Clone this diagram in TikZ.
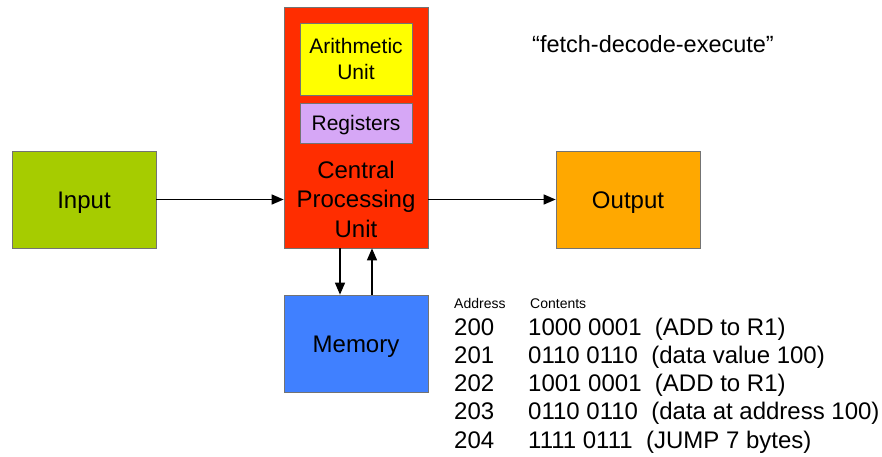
\documentclass[tikz,border=0pt]{standalone}
\usepackage{fontspec}
\setmainfont{Liberation Sans}
\usetikzlibrary{arrows.meta}
\definecolor{ingreen}{HTML}{A6CC00}
\definecolor{outorange}{HTML}{FFA800}
\definecolor{cpured}{HTML}{FF2D00}
\definecolor{memblue}{HTML}{4080FF}
\definecolor{auyellow}{HTML}{FFFF00}
\definecolor{reglilac}{HTML}{D6A7F6}
\tikzset{
  blk/.style={draw=black!55, line width=0.7pt, inner sep=0pt, minimum width=144pt, minimum height=97pt},
  bigtxt/.style={font=\fontsize{24}{29}\selectfont, text height=17.2pt, text depth=0pt},
  inner/.style={draw=black!55, line width=0.7pt, inner sep=0pt, minimum width=112pt, align=center, font=\fontsize{21}{26.5}\selectfont},
  conn/.style={line width=1.4pt, -{Triangle[length=12pt,width=10pt]}},
  rowtxt/.style={anchor=base west, inner sep=0pt, font=\fontsize{24}{28}\selectfont},
}
\begin{document}
\begin{tikzpicture}[x=1pt,y=-1pt]
\useasboundingbox (0,0) rectangle (882,456);
\node[blk, bigtxt, fill=ingreen] (in) at (84,199.5) {Input};
\node[blk, bigtxt, fill=outorange] (out) at (628,199.5) {Output};
\node[blk, bigtxt, fill=memblue] (mem) at (356,343.5) {Memory};
\node[blk, fill=cpured, minimum height=241pt] (cpu) at (356,127.5) {};
\node[inner, fill=auyellow, minimum height=72pt] (au) at (356,59) {Arithmetic\\Unit};
\node[inner, fill=reglilac, minimum height=40pt, text height=15.5pt, text depth=0pt] (reg) at (356,123) {Registers};
\node[anchor=base, inner sep=0pt, align=center, font=\fontsize{24}{29.5}\selectfont] (cputxt) at (356,237) {Central\\Processing\\Unit};
\draw[conn] (in.east) -- (in.east -| cpu.west);
\draw[conn] (out.west -| cpu.east) -- (out.west);
\draw[conn] ([xshift=-16pt]cpu.south) -- ([xshift=-16pt]mem.north);
\draw[conn] ([xshift=16pt]mem.north) -- ([xshift=16pt]cpu.south);
\node[anchor=base, inner sep=0pt, font=\fontsize{23.5}{28}\selectfont] (fde) at (653,52) {“fetch-decode-execute”};
\node[anchor=base west, inner sep=0pt, font=\fontsize{14}{17}\selectfont] (hadr) at (454,308) {Address};
\node[anchor=base west, inner sep=0pt, font=\fontsize{14}{17}\selectfont] (hcon) at (530,308) {Contents};
\node[rowtxt] (r0) at (454,335) {\makebox[74pt][l]{200}1000 0001\hspace{0.556em}(ADD to R1)};
\node[rowtxt] (r1) at (454,363.3) {\makebox[74pt][l]{201}0110 0110\hspace{0.556em}(data value 100)};
\node[rowtxt] (r2) at (454,391.6) {\makebox[74pt][l]{202}1001 0001\hspace{0.556em}(ADD to R1)};
\node[rowtxt] (r3) at (454,419.9) {\makebox[74pt][l]{203}0110 0110\hspace{0.556em}(data at address 100)};
\node[rowtxt] (r4) at (454,448.2) {\makebox[74pt][l]{204}1111 0111\hspace{0.556em}(JUMP 7 bytes)};
\end{tikzpicture}
\end{document}
